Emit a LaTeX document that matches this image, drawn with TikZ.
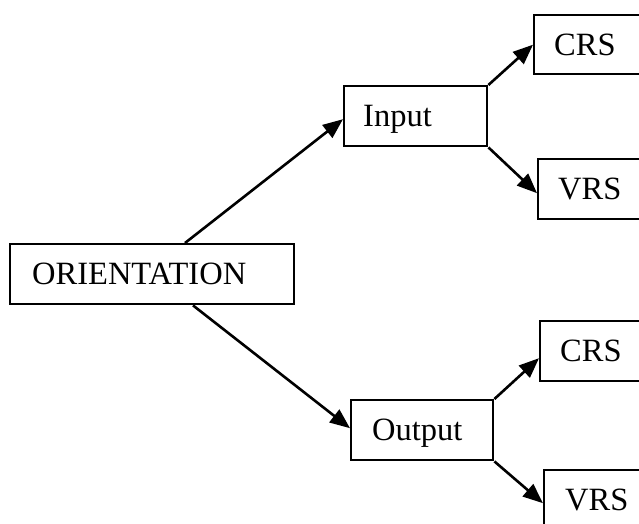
\documentclass[tikz,border=0pt]{standalone}
\usepackage{fontspec}
\setmainfont{Liberation Serif}
\usetikzlibrary{arrows.meta}
% left-aligned label inside a box of fixed width
\newcommand\padtext[3]{\makebox[#1][l]{\hspace*{#2}#3}}
\tikzset{
  box/.style={draw, line width=2.4pt, inner sep=0pt, anchor=north west,
    minimum height=60pt, text height=21.5pt, text depth=0pt,
    font=\fontsize{32.5}{37}\selectfont},
  link/.style={line width=2.6pt, -{Triangle[length=20pt,width=16pt]}}
}
\begin{document}
\begin{tikzpicture}[x=1pt,y=-1pt]
\useasboundingbox (0,0) rectangle (639,524);
\clip (0,0) rectangle (639,524);
% root
\node[box, minimum width=284pt] (orient) at (9,243) {\padtext{284pt}{22pt}{ORIENTATION}};
% orientation kinds
\node[box, minimum width=143pt] (input) at (343,85) {\padtext{143pt}{19pt}{Input}};
\node[box, minimum width=142pt] (output) at (350,399) {\padtext{142pt}{21pt}{Output}};
% returns to scale (boxes run past the right edge)
\node[box, minimum width=127pt, minimum height=59pt] (crsA) at (533,14) {\padtext{127pt}{20pt}{CRS}};
\node[box, minimum width=123pt] (vrsA) at (537,158) {\padtext{123pt}{20pt}{VRS}};
\node[box, minimum width=121pt] (crsB) at (539,320) {\padtext{121pt}{20pt}{CRS}};
\node[box, minimum width=117pt] (vrsB) at (543,469) {\padtext{117pt}{21pt}{VRS}};
% connectors
\draw[link] ([xshift=176pt]orient.north west) -- ([yshift=-3pt]input.west);
\draw[link] ([xshift=184pt]orient.south west) -- ([yshift=2pt]output.west);
\draw[link] (input.north east) -- (crsA.west);
\draw[link] (input.south east) -- ([yshift=-4pt]vrsA.west);
\draw[link] (output.north east) -- ([yshift=-7pt]crsB.west);
\draw[link] (output.south east) -- ([yshift=-3pt]vrsB.west);
\end{tikzpicture}
\end{document}
